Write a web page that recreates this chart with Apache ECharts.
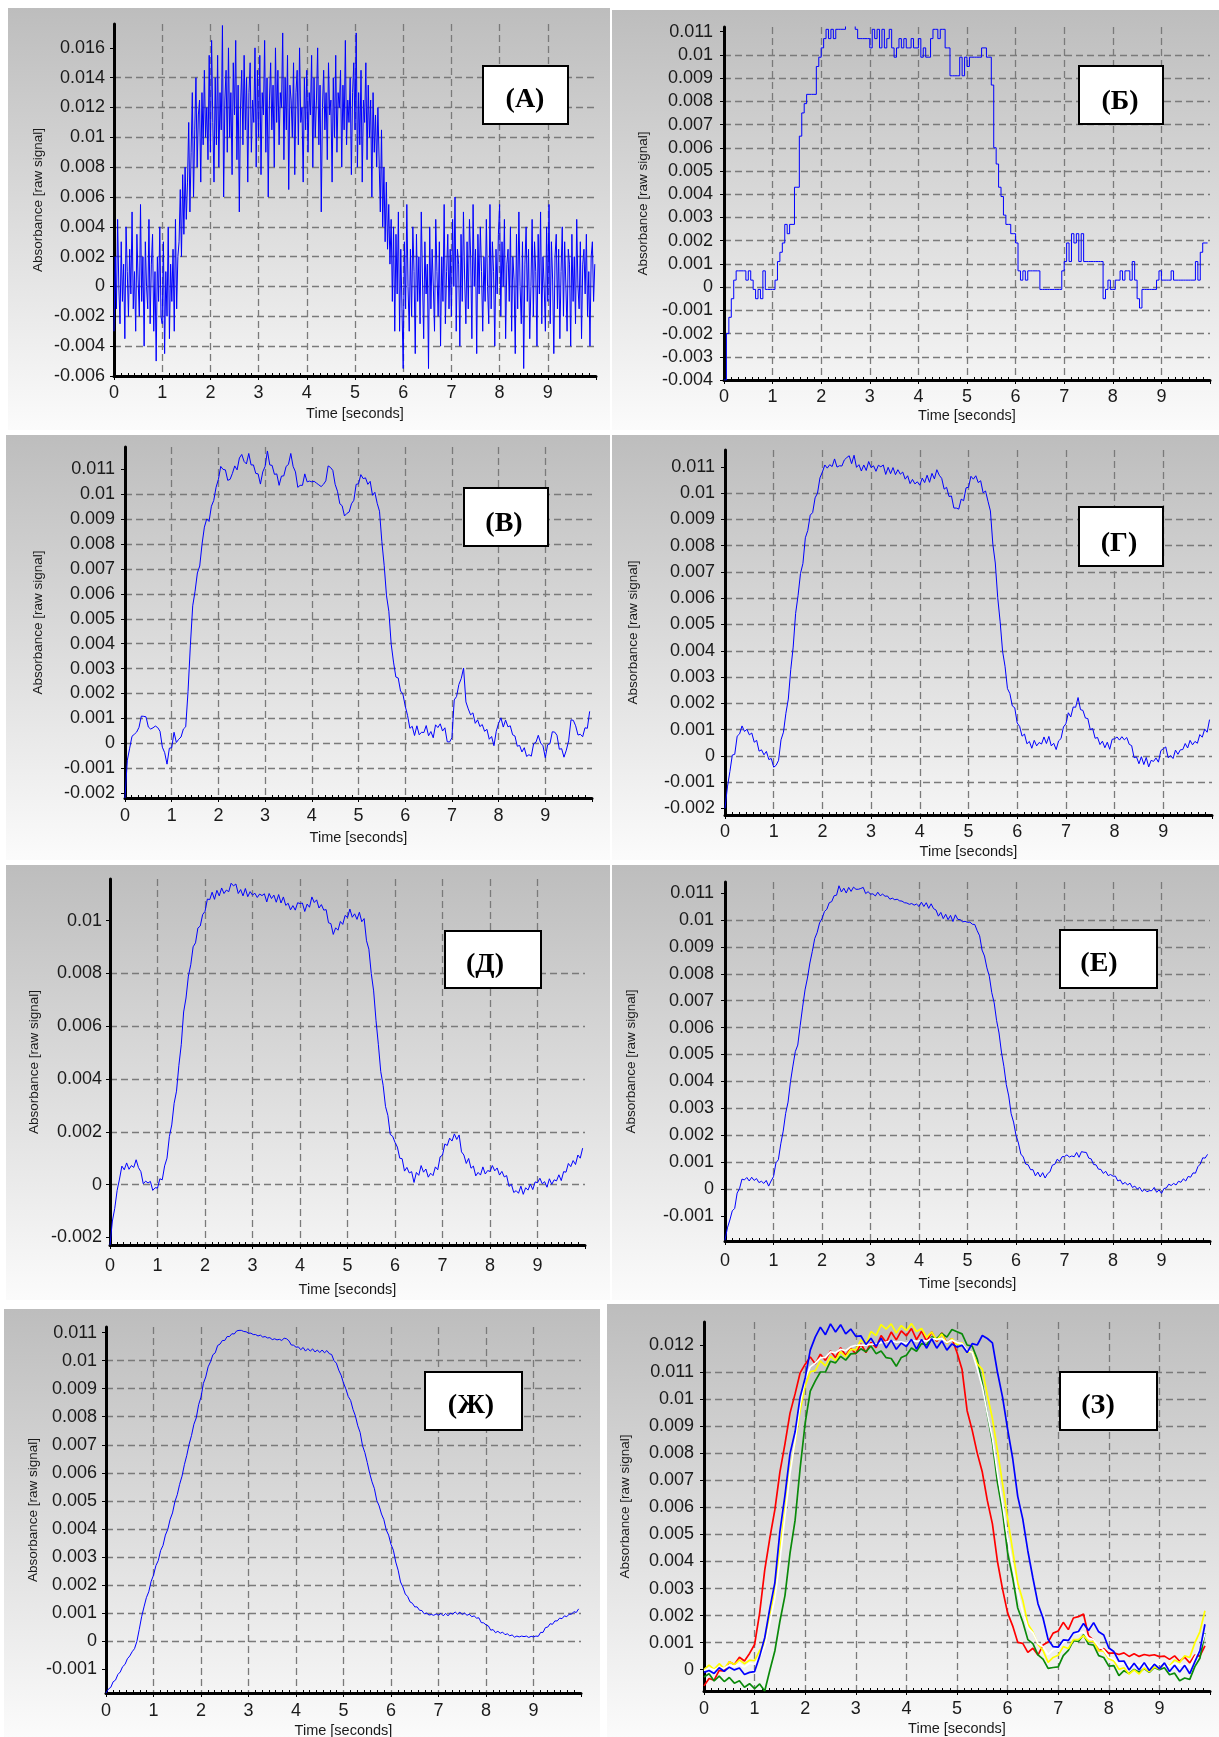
<!DOCTYPE html>
<html><head><meta charset="utf-8">
<script src="https://cdn.jsdelivr.net/npm/echarts@6/dist/echarts.min.js"></script>
<style>html,body{margin:0;padding:0;background:#fff}#c{width:1219px;height:1737px}</style>
</head><body><div id="c"></div>
<script>
// ---- sampling steps (seconds) ----
const DT_A = 0.025, DT = 0.05, DT_Z = 0.1;
// ---- x tick labels ----
const xTicks = [0,1,2,3,4,5,6,7,8,9];
// ---- y tick labels per panel ----
const yTicksA = [-0.006,-0.004,-0.002,0,0.002,0.004,0.006,0.008,0.01,0.012,0.014,0.016];
const yTicksB = [-0.004,-0.003,-0.002,-0.001,0,0.001,0.002,0.003,0.004,0.005,0.006,0.007,0.008,0.009,0.01,0.011];
const yTicksV = [-0.002,-0.001,0,0.001,0.002,0.003,0.004,0.005,0.006,0.007,0.008,0.009,0.01,0.011];
const yTicksG = [-0.002,-0.001,0,0.001,0.002,0.003,0.004,0.005,0.006,0.007,0.008,0.009,0.01,0.011];
const yTicksD = [-0.002,0,0.002,0.004,0.006,0.008,0.01];
const yTicksE = [-0.001,0,0.001,0.002,0.003,0.004,0.005,0.006,0.007,0.008,0.009,0.01,0.011];
const yTicksZh = [-0.001,0,0.001,0.002,0.003,0.004,0.005,0.006,0.007,0.008,0.009,0.01,0.011];
const yTicksZ = [0,0.001,0.002,0.003,0.004,0.005,0.006,0.007,0.008,0.009,0.01,0.011,0.012];

// ---- absorbance values, units of 1e-5 ----
const absA = [
-300,200,-150,450,0,-250,300,-100,150,-350,400,100,-200,250,-50,500,-150,100,-300,350,50,-200,550,-100,200,-400,300,0,-150,450,-250,150,350,-300,100,-500,200,-100,400,-200,
-250,300,-450,100,-200,400,-350,150,-100,250,-300,450,-150,200,300,650,200,750,350,800,450,700,1100,500,900,1300,600,1050,1400,800,1150,1250,700,1300,950,1450,1000,1200,850,1550,
900,1650,1100,700,1400,950,1550,800,1300,1050,1750,600,1250,1450,900,1600,1000,1300,750,1500,1150,1650,850,1350,500,1200,1450,950,1550,1050,1400,700,1300,1500,900,1250,1100,1600,800,1450,
1000,1550,750,1300,1150,1650,900,1400,600,1250,1500,1050,1350,800,1600,1100,1450,950,1300,1200,1700,850,1400,1050,1550,650,1350,1250,1000,1500,750,1300,1450,950,1600,1100,1200,700,1400,1050,
1450,900,1300,1150,1550,800,1400,1000,1250,1600,950,1350,500,1200,1450,1050,1300,850,1500,1150,1250,700,1400,1000,1550,900,1300,1200,1450,800,1350,1050,1650,950,1250,1100,1400,750,1300,1500,
1050,1700,800,1300,950,1450,700,1250,1100,1500,850,1350,1000,1250,600,1300,900,1150,800,1200,1200,500,1050,400,800,300,700,250,550,150,450,-100,400,-300,350,-50,500,-300,250,-150,
-550,300,-150,550,0,-300,250,-200,400,100,-450,350,-100,200,-250,500,50,-350,300,-50,150,-550,400,-150,250,0,-300,450,100,-200,300,-400,200,-100,550,-250,100,350,-150,250,
-200,450,0,600,-300,250,150,-400,350,-100,500,50,-250,300,-150,450,200,-350,550,0,250,-450,350,-50,400,100,-300,200,-100,450,0,-250,550,-150,300,100,-400,250,-50,350,
550,-200,300,0,450,-350,150,250,-100,400,-300,200,50,-450,350,-150,500,0,-250,300,-550,150,400,-100,250,-350,0,450,-200,300,100,-400,350,-50,500,-250,200,0,-300,400,
-100,550,-250,300,50,-450,200,350,-150,250,-350,100,400,-200,300,0,-300,250,150,-400,350,-100,200,-250,450,0,-150,300,-350,150,250,-50,350,-200,100,-400,200,300,-100,150
];
const absB = [
-400,-200,-130,-50,30,70,70,70,70,30,70,30,-10,-50,-10,-50,70,-10,-10,-10,
-10,30,110,150,190,270,230,270,270,430,430,650,750,790,830,830,830,830,950,990,
1030,1070,1110,1070,1110,1070,1110,1110,1110,1110,1150,1150,1150,1150,1110,1070,1070,1070,1070,1070,
1030,1110,1070,1110,1030,1110,1030,1070,1110,1030,990,1030,1070,1030,1070,1030,1030,1070,1030,1030,
1070,990,1030,990,990,1070,1110,1110,1070,1110,1110,1030,1030,910,910,910,910,990,910,990,
950,990,990,990,990,990,1030,1030,990,990,870,600,530,430,390,310,270,270,230,230,
190,70,30,70,30,70,70,70,70,70,-10,-10,-10,-10,-10,-10,-10,-10,-10,70,
110,190,110,230,190,230,110,230,110,110,110,110,110,110,110,110,-50,-10,30,-10,
-10,30,30,70,30,70,70,30,110,30,-50,-90,-10,-10,-10,-10,-10,-10,30,70,
30,30,30,30,70,30,30,30,30,30,30,30,30,30,110,30,150,190,190,190
];
const absV = [
-220,-68,-20,28,36,45,64,109,108,106,65,57,62,69,63,48,-16,-38,-84,-20,
-18,44,3,16,25,57,66,208,394,552,610,684,712,800,868,901,891,952,975,1028,
1060,1112,1100,1098,1056,1060,1084,1114,1098,1146,1160,1132,1122,1164,1118,1118,1084,1082,1041,1090,
1112,1174,1118,1116,1080,1082,1036,1073,1074,1112,1120,1164,1112,1090,1028,1036,1036,1082,1050,1053,
1050,1052,1045,1038,1031,1040,1054,1114,1108,1096,1040,1012,962,954,913,923,929,962,976,1040,
1042,1079,1063,1066,1040,1052,996,1008,964,932,810,714,592,530,398,326,266,262,210,198,
150,112,60,68,31,70,34,44,43,71,30,47,22,74,63,78,49,62,6,5,
22,174,188,236,260,302,166,138,114,122,80,94,67,75,48,56,16,27,-10,48,
80,102,65,93,66,70,34,29,-12,-9,-35,-18,-53,-46,-52,-2,4,32,1,-10,
-58,-6,-2,46,45,32,-24,-22,-56,-28,10,94,92,70,33,36,26,62,60,128
];
const absG = [
-200,-118,-60,3,6,75,84,114,93,101,80,87,52,59,18,23,4,17,-14,-10,
-43,-36,-17,61,90,162,216,328,414,542,610,694,732,830,858,916,926,982,1000,1058,
1080,1107,1095,1108,1101,1130,1099,1104,1103,1126,1135,1142,1112,1144,1098,1108,1084,1107,1086,1120,
1097,1104,1083,1106,1100,1107,1071,1098,1074,1097,1070,1089,1072,1080,1053,1066,1036,1052,1035,1043,
1030,1057,1040,1068,1041,1075,1054,1089,1068,1056,1015,1022,987,989,943,943,939,977,971,1020,
1022,1064,1053,1066,1040,1047,1001,1008,969,932,805,734,602,510,398,341,256,237,190,183,
125,112,75,83,46,55,29,59,38,51,45,72,47,74,38,48,24,57,66,110,
122,164,148,186,185,222,176,173,144,142,100,104,67,70,43,56,31,52,25,63,
65,72,60,73,61,70,44,39,-7,-4,-30,-3,-33,-6,-42,-17,-21,-8,-24,20,
27,34,-7,1,-10,22,6,23,24,47,30,59,42,55,48,81,71,102,90,138
];
const absD = [
-230,-138,-90,-22,21,70,56,82,58,72,65,94,64,49,3,13,6,12,-22,-12,
-13,22,18,71,100,182,226,308,354,452,530,654,707,790,833,901,916,972,980,1023,
1035,1082,1080,1108,1081,1115,1094,1124,1103,1116,1110,1142,1132,1139,1103,1118,1094,1122,1091,1110,
1097,1104,1088,1101,1095,1102,1071,1103,1084,1097,1070,1099,1067,1090,1058,1066,1041,1057,1040,1068,
1065,1067,1035,1063,1051,1090,1069,1079,1048,1061,1040,1042,992,989,948,973,964,997,986,1020,
1012,1044,1013,1026,1005,1032,996,1008,924,892,800,734,622,530,428,376,296,262,190,183,
160,142,100,98,51,65,44,49,8,46,35,72,47,59,28,43,34,67,56,105,
112,154,148,176,165,192,171,188,124,112,80,99,62,70,33,46,36,67,40,53,
50,72,52,63,36,50,29,34,-7,1,-30,-23,-33,-6,-37,-12,-21,2,-19,10,
7,24,3,11,-10,22,1,18,14,37,15,49,47,80,68,91,76,112,100,138
];
const absE = [
-190,-144,-115,-81,-72,-15,2,37,34,43,30,44,32,39,24,29,21,32,11,30,
46,97,109,168,215,281,323,399,457,511,535,607,676,740,784,840,883,931,953,989,
1005,1031,1040,1064,1068,1090,1092,1127,1104,1118,1100,1121,1106,1122,1114,1114,1117,1121,1098,1105,
1096,1097,1089,1103,1090,1096,1088,1089,1077,1081,1075,1077,1071,1070,1064,1063,1058,1061,1055,1059,
1050,1066,1050,1064,1043,1060,1042,1037,1014,1028,1005,1021,1001,1017,994,1019,1002,1001,993,995,
991,992,984,983,960,941,888,866,822,791,730,692,626,580,509,456,388,346,280,249,
200,171,130,119,93,90,72,72,49,63,45,61,41,57,64,89,92,111,103,120,
121,127,119,123,120,136,118,139,137,136,115,112,91,90,74,73,58,66,50,54,
48,48,30,34,18,25,15,22,6,11,0,6,-9,-1,-10,-6,-6,6,-12,-3,
-16,2,4,18,13,21,15,29,25,38,30,47,44,60,59,83,93,116,115,129
];
const absZh = [
-185,-171,-165,-145,-139,-119,-110,-91,-83,-63,-53,-38,-27,-1,42,87,122,155,176,213,
235,269,287,323,341,378,398,434,457,497,522,559,588,629,662,702,733,773,796,843,
870,919,942,978,996,1021,1028,1054,1059,1072,1072,1086,1086,1096,1095,1106,1108,1108,1104,1103,
1098,1098,1093,1093,1088,1091,1084,1086,1081,1082,1075,1078,1074,1076,1072,1080,1078,1071,1056,1055,
1048,1049,1039,1047,1034,1043,1034,1042,1031,1038,1029,1038,1028,1036,1025,1022,1000,991,966,948,
920,899,872,858,826,803,768,744,697,672,637,599,568,544,502,482,453,433,396,378,
345,324,282,253,211,193,168,159,140,135,122,122,110,109,97,100,93,95,92,97,
92,99,90,99,90,100,96,104,96,103,95,100,92,96,87,90,82,83,66,65,
58,54,39,41,30,35,28,32,23,26,19,22,14,18,15,18,16,18,13,17,
15,18,17,31,31,48,50,62,60,72,72,82,80,90,87,96,96,105,102,115
];
const absZRed = [
-60,-33,-39,-3,-6,29,19,46,32,60,
93,210,368,486,591,731,835,949,1020,1098,
1130,1157,1131,1167,1144,1179,1154,1191,1162,1190,
1168,1205,1173,1211,1191,1236,1210,1249,1220,1253,
1235,1262,1221,1252,1214,1249,1214,1246,1207,1225,
1173,1110,958,886,801,731,625,539,400,298,
210,162,101,97,64,79,54,91,102,135,
143,175,148,191,196,206,125,109,70,78,
60,62,56,62,49,59,49,56,52,55,
48,50,38,51,31,46,25,54,50,88
];
const absZGreen = [
-27,-15,-42,-24,-44,-29,-50,-41,-65,-52,
-70,-53,-79,-3,69,179,274,431,552,745,
913,1030,1068,1101,1101,1141,1135,1159,1145,1168,
1170,1187,1176,1197,1169,1179,1154,1151,1122,1155,
1163,1190,1178,1206,1201,1231,1225,1244,1230,1258,
1250,1242,1201,1197,1149,1059,944,841,692,585,
433,340,228,176,111,96,55,39,5,8,
10,52,71,107,104,129,94,91,52,45,
13,15,-22,-4,-14,1,-10,4,-10,8,
0,7,-19,-13,-41,-31,-36,11,42,135
];
const absZYellow = [
0,17,1,22,4,29,19,36,22,35,
33,70,98,206,291,441,595,739,840,958,
1050,1102,1106,1142,1124,1159,1144,1176,1157,1185,
1183,1220,1203,1251,1236,1276,1260,1279,1245,1273,
1255,1280,1251,1262,1229,1249,1219,1241,1207,1225,
1203,1210,1173,1176,1131,1111,1015,929,810,688,
560,442,321,257,169,139,94,71,27,45,
53,85,78,111,111,126,105,104,70,68,
40,32,1,7,-16,-1,-16,6,-8,10,
3,25,13,36,26,51,45,99,140,218
];
const absZWhite = [
-4,5,-1,8,5,16,12,20,10,24,
20,46,85,174,264,405,567,726,846,983,
1076,1120,1134,1153,1155,1176,1172,1185,1180,1194,
1200,1201,1200,1204,1204,1210,1212,1216,1211,1213,
1206,1220,1214,1218,1215,1226,1222,1225,1210,1219,
1210,1206,1180,1174,1114,1045,947,856,726,613,
486,385,284,213,155,136,97,85,55,74,
80,101,115,134,134,140,117,111,86,73,
46,40,19,23,15,21,17,25,10,24,
20,26,10,24,14,20,7,46,76,133
];
const absZBlue = [
-10,-3,-14,7,-6,9,-1,6,-18,-10,
-7,50,118,226,321,511,645,799,880,1008,
1080,1182,1231,1267,1239,1279,1249,1276,1242,1260,
1233,1235,1203,1226,1196,1226,1190,1219,1185,1208,
1195,1222,1186,1222,1189,1224,1189,1216,1182,1205,
1193,1200,1173,1206,1201,1236,1225,1209,1100,1008,
890,782,641,557,439,339,244,191,112,85,
83,110,108,136,141,171,145,174,140,128,
80,67,31,32,-1,24,-1,26,-3,20,
3,25,-7,16,-9,16,-15,29,70,168
];

function toPairs(vals, dt) {
  return vals.map((v, i) => [Math.round(i * dt * 1000) / 1000, v / 100000]);
}

const FONT = 'Liberation Sans';
const panels = [
  {label:'(А)', grid:[114,24,482,352], y:[-0.006,0.0176], ticks:yTicksA, yGap:69, xGap:30, xm:8, ym:9,
   bg:[8,8,602,422], box:[483,66,85,58], txt:[525,100],
   lines:[{d:absA, dt:DT_A, c:'#0000ff'}]},
  {label:'(Б)', grid:[724,27,486,353], y:[-0.004,0.0112], ticks:yTicksB, yGap:74, xGap:28, xm:8, ym:11,
   bg:[612,10,607,420], box:[1079,66,84,58], txt:[1120,102],
   lines:[{d:absB, dt:DT, c:'#0000ff', step:'end'}]},
  {label:'(В)', grid:[125,447,467,351], y:[-0.0022,0.0119], ticks:yTicksV, yGap:80, xGap:32, xm:9, ym:10,
   bg:[6,435,604,425], box:[464,488,84,58], txt:[504,524],
   lines:[{d:absV, dt:DT, c:'#0000ff'}]},
  {label:'(Г)', grid:[725,450,487,365], y:[-0.00225,0.01164], ticks:yTicksG, yGap:85, xGap:29, xm:8, ym:10,
   bg:[612,435,607,425], box:[1079,507,84,59], txt:[1119,544],
   lines:[{d:absG, dt:DT, c:'#0000ff'}]},
  {label:'(Д)', grid:[110,879,475,366], y:[-0.00229,0.01158], ticks:yTicksD, yGap:69, xGap:37, xm:12, ym:8,
   bg:[6,865,604,435], box:[445,931,96,57], txt:[485,965],
   lines:[{d:absD, dt:DT, c:'#0000ff'}]},
  {label:'(Е)', grid:[725,882,485,359], y:[-0.00193,0.01141], ticks:yTicksE, yGap:87, xGap:35, xm:11, ym:11,
   bg:[612,865,607,435], box:[1060,930,97,58], txt:[1099,964],
   lines:[{d:absE, dt:DT, c:'#0000ff'}]},
  {label:'(Ж)', grid:[106,1327,475,366], y:[-0.00185,0.0112], ticks:yTicksZh, yGap:66, xGap:30, xm:9, ym:9,
   bg:[4,1309,596,428], box:[425,1372,97,58], txt:[471,1406],
   lines:[{d:absZh, dt:DT, c:'#0000ff'}]},
  {label:'(З)', grid:[704,1322,506,369], y:[-0.00079,0.01286], ticks:yTicksZ, yGap:72, xGap:30, xm:9, ym:10,
   bg:[607,1304,612,433], box:[1060,1372,97,58], txt:[1098,1406],
   lines:[{d:absZRed, dt:DT_Z, c:'#ff0000', w:1.7},{d:absZGreen, dt:DT_Z, c:'#0a8a0a', w:1.7},
          {d:absZYellow, dt:DT_Z, c:'#ffff00', w:1.7},{d:absZWhite, dt:DT_Z, c:'#ffffff', w:1.7},
          {d:absZBlue, dt:DT_Z, c:'#0000ff', w:1.7}]}
];

const grids = [], xAxes = [], yAxes = [], series = [], graphics = [];
const dash = {type:[7,4], color:'#7a7a7a', width:1.3};
panels.forEach((p, i) => {
  grids.push({left:p.grid[0], top:p.grid[1], width:p.grid[2], height:p.grid[3], containLabel:false, outerBoundsMode:'none'});
  xAxes.push({
    type:'value', gridIndex:i, min:0, max:10, interval:1,
    axisLine:{show:true, onZero:false, lineStyle:{color:'#000', width:3}},
    axisTick:{show:true, length:4, lineStyle:{color:'#000', width:1}},
    minorTick:{show:true, splitNumber:7, length:-3, lineStyle:{color:'#000', width:1}},
    minorSplitLine:{show:false},
    axisLabel:{margin:p.xm, fontSize:18, fontFamily:FONT, color:'#1a1a1a',
      formatter:v => (xTicks.indexOf(v) >= 0 ? String(v) : '')},
    splitLine:{show:true, showMinLine:false, showMaxLine:false, lineStyle:dash},
    name:'Time [seconds]', nameLocation:'middle', nameGap:p.xGap, nameMoveOverlap:false,
    nameTextStyle:{fontSize:14.5, fontFamily:FONT, color:'#1a1a1a'}
  });
  yAxes.push({
    type:'value', gridIndex:i, min:p.y[0], max:p.y[1],
    axisLine:{show:true, onZero:false, lineStyle:{color:'#000', width:3}},
    axisTick:{show:true, length:4, customValues:p.ticks, lineStyle:{color:'#000', width:1}},
    axisLabel:{customValues:p.ticks, margin:p.ym, fontSize:18, fontFamily:FONT, color:'#1a1a1a',
      formatter:v => String(v)},
    splitLine:{show:true, showMinLine:false, showMaxLine:false, lineStyle:dash},
    name:'Absorbance [raw signal]', nameLocation:'middle', nameGap:p.yGap, nameMoveOverlap:false,
    nameTextStyle:{fontSize:13.5, fontFamily:FONT, color:'#1a1a1a'}
  });
  p.lines.forEach(L => {
    series.push({
      type:'line', xAxisIndex:i, yAxisIndex:i, data:toPairs(L.d, L.dt),
      showSymbol:false, symbol:'none', step:L.step || false, clip:true, smooth:false,
      lineStyle:{color:L.c, width:L.w || 1}, itemStyle:{color:L.c}, emphasis:{disabled:true},
      animation:false
    });
  });
  graphics.push({
    type:'rect', z:-10, silent:true,
    shape:{x:p.bg[0], y:p.bg[1], width:p.bg[2], height:p.bg[3]},
    style:{fill:new echarts.graphic.LinearGradient(0,0,0,1,[{offset:0,color:'#bdbdbd'},{offset:1,color:'#fbfbfb'}])}
  });
  graphics.push({
    type:'rect', z:100, silent:true,
    shape:{x:p.box[0], y:p.box[1], width:p.box[2], height:p.box[3]},
    style:{fill:'#ffffff', stroke:'#000', lineWidth:2}
  });
  graphics.push({
    type:'text', z:101, silent:true, x:p.txt[0], y:p.txt[1],
    style:{text:p.label, font:'bold 28px "Liberation Serif"', fill:'#000', align:'center', verticalAlign:'middle'}
  });
});

const chart = echarts.init(document.getElementById('c'), null, {renderer:'canvas', width:1219, height:1737});
chart.setOption({
  animation:false, backgroundColor:'#ffffff',
  grid:grids, xAxis:xAxes, yAxis:yAxes, series:series, graphic:graphics
});
</script></body></html>
